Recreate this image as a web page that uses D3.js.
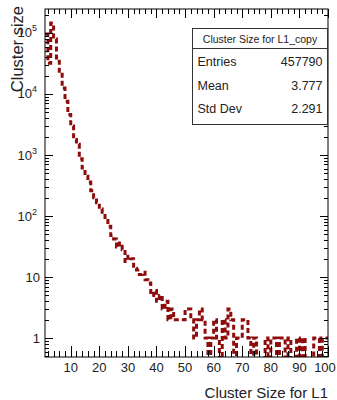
<!DOCTYPE html>
<html>
<head>
<meta charset="utf-8">
<script src="https://cdn.jsdelivr.net/npm/d3@7"></script>
<style>
  html, body { margin: 0; padding: 0; background: #fff; }
  svg { display: block; font-family: "Liberation Sans", Arial, Helvetica, sans-serif; }
</style>
</head>
<body>
<svg id="chart" width="337" height="400"></svg>
<script>
// Histogram: cluster size for L1, unit-width bins starting at 1
const binStart = 1;
const binWidth = 1;
const counts = [
  96000, 32000, 145000, 80000, 39000, 21000, 12500, 7600, 4600, 3000,
  1800, 1500, 870, 610, 450, 360, 260, 200, 165, 130,
  115, 95, 68, 48, 42, 31, 36, 28, 18, 22,
  20, 14, 13, 11, 12, 9, 8, 5, 6, 4,
  5, 3, 4, 2, 3, 2, 2, 2, 2, 3,
  3, 2, 1, 2, 3, 2, 1, 0, 1, 2,
  1, 0, 2, 1, 3, 2, 0, 1, 1, 2,
  2, 1, 0, 1, 0, 0, 0, 1, 0, 1,
  1, 0, 1, 1, 0, 1, 0, 0, 1, 0,
  1, 0, 0, 0, 1, 1, 0, 1, 1
];

const xMajorTicks = [10, 20, 30, 40, 50, 60, 70, 80, 90, 100];
const yDecades = [1, 10, 100, 1000, 10000, 100000];
const yDecadeLabels = [["1", ""], ["10", ""], ["10", "2"], ["10", "3"], ["10", "4"], ["10", "5"]];

const histTitle = "Cluster Size for L1_copy";
const statNames = ["Entries", "Mean", "Std Dev"];
const statValues = ["457790", "3.777", "2.291"];

const xTitle = "Cluster Size for L1";
const yTitle = "Cluster size";

const lineColor = "#8f0c0c";

const frame = { left: 45, right: 328, top: 9, bottom: 357 };

const svg = d3.select("#chart");

const x = d3.scaleLinear()
  .domain([binStart, binStart + counts.length * binWidth])
  .range([frame.left, frame.right]);

const y = d3.scaleLog()
  .domain([0.49, 2.47e5])
  .range([frame.bottom, frame.top]);

// clip region for the histogram outline
svg.append("defs").append("clipPath").attr("id", "plotClip")
  .append("rect")
  .attr("x", frame.left).attr("y", frame.top)
  .attr("width", frame.right - frame.left)
  .attr("height", frame.bottom - frame.top);

// histogram outline as a step line; empty bins fall to the frame bottom
const steps = counts.map((c, i) => ({ x: binStart + i * binWidth, c }));
steps.push({ x: binStart + counts.length * binWidth, c: counts[counts.length - 1] });

const yOf = c => c > 0 ? y(c) : frame.bottom + 2;

const line = d3.line()
  .x(d => x(d.x))
  .y(d => yOf(d.c))
  .curve(d3.curveStepAfter);

svg.append("path")
  .datum(steps)
  .attr("clip-path", "url(#plotClip)")
  .attr("d", line)
  .attr("fill", "none")
  .attr("stroke", lineColor)
  .attr("stroke-width", 3)
  .attr("stroke-dasharray", "5,3");

// frame
svg.append("rect")
  .attr("x", frame.left).attr("y", frame.top)
  .attr("width", frame.right - frame.left)
  .attr("height", frame.bottom - frame.top)
  .attr("fill", "none")
  .attr("stroke", "#000")
  .attr("stroke-width", 1);

const ticks = svg.append("g").attr("stroke", "#000").attr("stroke-width", 1);

// x ticks: majors every 10, minors every 2, on bottom and top edges
const xMinor = d3.range(2, 101, 2).filter(v => !xMajorTicks.includes(v));
xMinor.forEach(v => {
  const px = Math.round(x(v)) + 0.5;
  ticks.append("line").attr("x1", px).attr("x2", px).attr("y1", frame.bottom).attr("y2", frame.bottom - 6);
  ticks.append("line").attr("x1", px).attr("x2", px).attr("y1", frame.top).attr("y2", frame.top + 5);
});
xMajorTicks.forEach(v => {
  const px = Math.round(x(v)) + 0.5;
  ticks.append("line").attr("x1", px).attr("x2", px).attr("y1", frame.bottom).attr("y2", frame.bottom - 11);
  ticks.append("line").attr("x1", px).attr("x2", px).attr("y1", frame.top).attr("y2", frame.top + 9);
});

// y ticks: decades and 2..9 minors, on left and right edges
const yMinor = [];
[0.1, 1, 10, 100, 1000, 10000, 100000].forEach(d => {
  for (let k = 2; k <= 9; k++) {
    const v = d * k;
    if (v >= y.domain()[0] && v <= y.domain()[1]) yMinor.push(v);
  }
});
yMinor.forEach(v => {
  const py = Math.round(y(v)) + 0.5;
  ticks.append("line").attr("x1", frame.left).attr("x2", frame.left + 4).attr("y1", py).attr("y2", py);
  ticks.append("line").attr("x1", frame.right).attr("x2", frame.right - 4).attr("y1", py).attr("y2", py);
});
yDecades.forEach(v => {
  const py = Math.round(y(v)) + 0.5;
  ticks.append("line").attr("x1", frame.left).attr("x2", frame.left + 8).attr("y1", py).attr("y2", py);
  ticks.append("line").attr("x1", frame.right).attr("x2", frame.right - 8).attr("y1", py).attr("y2", py);
});

// x tick labels (the last one is nudged so it stays inside the page)
svg.append("g").selectAll("text")
  .data(xMajorTicks)
  .join("text")
  .attr("x", d => Math.min(x(d), 325))
  .attr("y", 372)
  .attr("text-anchor", "middle")
  .attr("font-size", 13)
  .attr("fill", "#222")
  .text(d => d);

// y tick labels with superscript exponents
const yl = svg.append("g").selectAll("text")
  .data(yDecades)
  .join("text")
  .attr("x", (d, i) => yDecadeLabels[i][1] ? 37 : 40)
  .attr("y", d => y(d) + 4.5)
  .attr("text-anchor", "end")
  .attr("font-size", 13)
  .attr("fill", "#222");
yl.append("tspan").text((d, i) => yDecadeLabels[i][0]);
yl.append("tspan")
  .attr("font-size", 9)
  .attr("dy", -6)
  .text((d, i) => yDecadeLabels[i][1]);

// axis titles
svg.append("text")
  .attr("x", frame.right)
  .attr("y", 398)
  .attr("text-anchor", "end")
  .attr("font-size", 15)
  .attr("fill", "#222")
  .text(xTitle);

svg.append("text")
  .attr("transform", `translate(23, ${frame.top - 3}) rotate(-90)`)
  .attr("text-anchor", "end")
  .attr("font-size", 16.5)
  .attr("fill", "#222")
  .text(yTitle);

// statistics box
const box = { x: 192.5, y: 28.5, w: 135, h: 96, titleH: 20 };
const sb = svg.append("g");
sb.append("rect")
  .attr("x", box.x).attr("y", box.y)
  .attr("width", box.w).attr("height", box.h)
  .attr("fill", "#fff")
  .attr("stroke", "#333")
  .attr("stroke-width", 1);
sb.append("line")
  .attr("x1", box.x).attr("x2", box.x + box.w)
  .attr("y1", box.y + box.titleH).attr("y2", box.y + box.titleH)
  .attr("stroke", "#333");
sb.append("text")
  .attr("x", box.x + box.w / 2)
  .attr("y", box.y + 14)
  .attr("text-anchor", "middle")
  .attr("font-size", 10.5)
  .attr("fill", "#222")
  .text(histTitle);
const rowY = [66, 90, 113];
statNames.forEach((n, i) => {
  sb.append("text")
    .attr("x", box.x + 5)
    .attr("y", rowY[i])
    .attr("font-size", 12.5)
    .attr("fill", "#222")
    .text(n);
  sb.append("text")
    .attr("x", box.x + box.w - 5)
    .attr("y", rowY[i])
    .attr("text-anchor", "end")
    .attr("font-size", 12.5)
    .attr("fill", "#222")
    .text(statValues[i]);
});
</script>
</body>
</html>
